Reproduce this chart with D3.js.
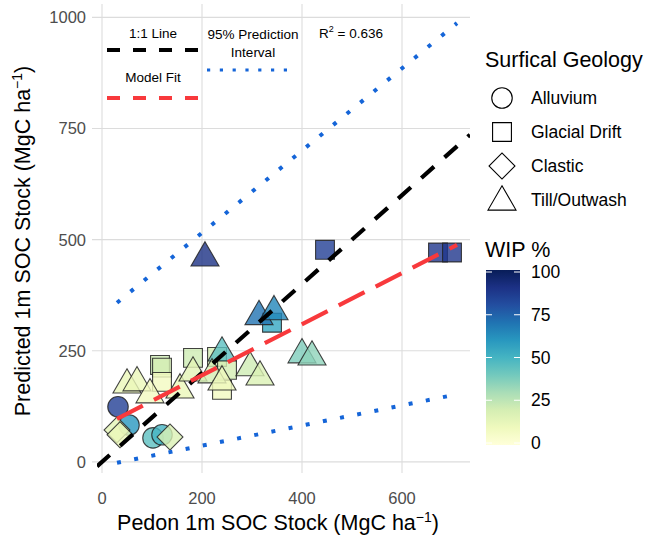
<!DOCTYPE html>
<html>
<head>
<meta charset="utf-8">
<script src="https://cdn.jsdelivr.net/npm/d3@7"></script>
<style>
body { margin: 0; background: #fff; }
text { font-family: "Liberation Sans", Arial, Helvetica, sans-serif; }
</style>
</head>
<body>
<div id="chart"></div>
<script>
// surficial geology classes, legend order
var geoTypes = ["Alluvium", "Glacial Drift", "Clastic", "Till/Outwash"];

// one entry per site
var pointGeo = [
  "Alluvium", "Alluvium", "Alluvium", "Alluvium",
  "Clastic", "Clastic", "Clastic",
  "Glacial Drift", "Glacial Drift", "Glacial Drift", "Glacial Drift", "Glacial Drift", "Glacial Drift",
  "Glacial Drift", "Glacial Drift", "Glacial Drift", "Glacial Drift", "Glacial Drift",
  "Till/Outwash", "Till/Outwash", "Till/Outwash", "Till/Outwash", "Till/Outwash", "Till/Outwash",
  "Till/Outwash", "Till/Outwash", "Till/Outwash", "Till/Outwash", "Till/Outwash", "Till/Outwash",
  "Till/Outwash", "Till/Outwash", "Till/Outwash"
];
var pedonSOC = [32, 54, 102, 120,
  30, 36, 136,
  116, 120, 120, 182, 230, 250, 240, 340, 446, 672, 700,
  50, 70, 96, 156, 182, 240, 220, 240, 296, 316, 400, 420, 314, 344, 206];
var predSOC = [124, 83, 54, 61,
  72, 61, 56,
  218, 212, 180, 234, 236, 207, 162, 313, 477, 471, 471,
  173, 178, 151, 162, 200, 245, 196, 180, 212, 191, 241, 236, 327, 338, 459];
var wipPct = [85, 60, 45, 50,
  15, 12, 18,
  22, 20, 8, 22, 20, 20, 8, 55, 85, 88, 88,
  12, 12, 8, 12, 15, 45, 20, 10, 22, 18, 38, 35, 70, 65, 90];

// fitted model and 95% prediction interval (end points)
var lineX = [30, 710];
var fitY = [97, 488];
var upperY = [358, 987];
var lowerY = [-2, 152];

var xTicks = [0, 200, 400, 600];
var yTicks = [0, 250, 500, 750, 1000];
var wipTicks = [0, 25, 50, 75, 100];
var rSquared = "0.636";

var svg = d3.select("#chart").append("svg")
  .attr("width", 649)
  .attr("height", 535)
  .style("background", "#fff");

var x = d3.scaleLinear().domain([-10, 736]).range([97, 470]);
var y = d3.scaleLinear().domain([-16, 1030]).range([469, 4]);
var colour = function(v) { return d3.interpolateYlGnBu(v / 100); };

svg.append("clipPath").attr("id", "panel")
  .append("rect").attr("x", 97).attr("y", 4).attr("width", 373).attr("height", 465);

// grid
var grid = svg.append("g");
grid.selectAll(".gx").data(xTicks).enter().append("line")
  .attr("x1", d => x(d)).attr("x2", d => x(d))
  .attr("y1", 4).attr("y2", 473)
  .attr("stroke", "#dcdcdc").attr("stroke-width", 1.1);
grid.selectAll(".gy").data(yTicks).enter().append("line")
  .attr("y1", d => y(d)).attr("y2", d => y(d))
  .attr("x1", 92).attr("x2", 470)
  .attr("stroke", "#dcdcdc").attr("stroke-width", 1.1);

// tick labels
svg.selectAll(".xl").data(xTicks).enter().append("text")
  .attr("x", d => x(d)).attr("y", 503.5)
  .attr("text-anchor", "middle")
  .attr("font-size", 16.5).attr("fill", "#4d4d4d")
  .text(d => d);
svg.selectAll(".yl").data(yTicks).enter().append("text")
  .attr("x", 86).attr("y", d => y(d) + 6)
  .attr("text-anchor", "end")
  .attr("font-size", 16.5).attr("fill", "#4d4d4d")
  .text(d => d);

// axis titles
var xt = svg.append("text")
  .attr("x", 278).attr("y", 530)
  .attr("text-anchor", "middle")
  .attr("font-size", 21.5).attr("fill", "#000");
xt.append("tspan").text("Pedon 1m SOC Stock (MgC ha");
xt.append("tspan").attr("dy", -8).attr("font-size", 14).text("\u22121");
xt.append("tspan").attr("dy", 8).text(")");

var yt = svg.append("text")
  .attr("transform", "translate(30,241) rotate(-90)")
  .attr("text-anchor", "middle")
  .attr("font-size", 21.5).attr("fill", "#000");
yt.append("tspan").text("Predicted 1m SOC Stock (MgC ha");
yt.append("tspan").attr("dy", -8).attr("font-size", 14).text("\u22121");
yt.append("tspan").attr("dy", 8).text(")");

// symbols
var shapeOf = {
  "Alluvium": d3.symbol().type(d3.symbolCircle).size(330),
  "Glacial Drift": d3.symbol().type(d3.symbolSquare).size(355),
  "Clastic": d3.symbol().type(d3.symbolSquare).size(335),
  "Till/Outwash": d3.symbol().type(d3.symbolTriangle).size(340)
};
var rot = function(g) { return g == "Clastic" ? " rotate(45)" : ""; };

var plot = svg.append("g").attr("clip-path", "url(#panel)");

var pts = d3.range(pedonSOC.length);
plot.selectAll(".pt").data(pts).enter().append("path")
  .attr("d", i => shapeOf[pointGeo[i]]())
  .attr("transform", i => "translate(" + x(pedonSOC[i]) + "," + y(predSOC[i]) + ")" + rot(pointGeo[i]))
  .attr("fill", i => colour(wipPct[i]))
  .attr("fill-opacity", 0.8)
  .attr("stroke", "#222")
  .attr("stroke-opacity", 0.85)
  .attr("stroke-width", 1.1);

// 1:1 line
plot.append("line")
  .attr("x1", x(-10)).attr("y1", y(-10))
  .attr("x2", x(736)).attr("y2", y(736))
  .attr("stroke", "#000").attr("stroke-width", 4.2)
  .attr("stroke-dasharray", "17,14");

// model fit
plot.append("line")
  .attr("x1", x(lineX[0])).attr("y1", y(fitY[0]))
  .attr("x2", x(lineX[1])).attr("y2", y(fitY[1]))
  .attr("stroke", "#f8393c").attr("stroke-width", 4.2)
  .attr("stroke-dasharray", "29,12.5");

// prediction interval
[upperY, lowerY].forEach(function(py) {
  plot.append("line")
    .attr("x1", x(lineX[0])).attr("y1", y(py[0]))
    .attr("x2", x(lineX[1])).attr("y2", y(py[1]))
    .attr("stroke", "#1565d8").attr("stroke-width", 4)
    .attr("stroke-dasharray", "4,13.5");
});

// in-panel key
var key = svg.append("g").attr("font-size", 13.5).attr("fill", "#000").attr("text-anchor", "middle");
key.append("text").attr("x", 153).attr("y", 38).text("1:1 Line");
key.append("line").attr("x1", 107).attr("x2", 198).attr("y1", 50).attr("y2", 50)
  .attr("stroke", "#000").attr("stroke-width", 4).attr("stroke-dasharray", "13,13");
key.append("text").attr("x", 153).attr("y", 82).text("Model Fit");
key.append("line").attr("x1", 107).attr("x2", 198).attr("y1", 98).attr("y2", 98)
  .attr("stroke", "#f8393c").attr("stroke-width", 4).attr("stroke-dasharray", "13,13");
key.append("text").attr("x", 253).attr("y", 39).text("95% Prediction");
key.append("text").attr("x", 253).attr("y", 57).text("Interval");
key.append("line").attr("x1", 207).attr("x2", 290).attr("y1", 70).attr("y2", 70)
  .attr("stroke", "#1565d8").attr("stroke-width", 3.2).attr("stroke-dasharray", "3.2,9.6");
var r2 = key.append("text").attr("x", 351).attr("y", 38);
r2.append("tspan").text("R");
r2.append("tspan").attr("dy", -6).attr("font-size", 9).text("2");
r2.append("tspan").attr("dy", 6).text(" = " + rSquared);

// shape legend
var lg = svg.append("g");
lg.append("text").attr("x", 485).attr("y", 67).attr("font-size", 21.5).text("Surfical Geology");
geoTypes.forEach(function(g, i) {
  var cy = 98 + i * 34;
  lg.append("path")
    .attr("d", shapeOf[g]())
    .attr("transform", "translate(502," + (g == "Till/Outwash" ? cy + 2 : cy) + ")" + rot(g))
    .attr("fill", "none").attr("stroke", "#000").attr("stroke-width", 1.1);
  lg.append("text").attr("x", 531).attr("y", cy + 6).attr("font-size", 17.5).text(g);
});

// colour bar
var bar = { x: 486, y: 272, w: 34, h: 171 };
var defs = svg.append("defs");
var grad = defs.append("linearGradient").attr("id", "wip")
  .attr("x1", 0).attr("y1", 1).attr("x2", 0).attr("y2", 0);
d3.range(0, 1.01, 0.1).forEach(function(t) {
  grad.append("stop").attr("offset", t).attr("stop-color", colour(t * 100));
});
svg.append("text").attr("x", 485).attr("y", 257).attr("font-size", 21.5).text("WIP %");
svg.append("rect").attr("x", bar.x).attr("y", bar.y - 2).attr("width", bar.w).attr("height", bar.h + 4)
  .attr("fill", "url(#wip)");
var wy = d3.scaleLinear().domain([0, 100]).range([bar.y + bar.h, bar.y]);
wipTicks.forEach(function(t) {
  svg.append("line").attr("x1", bar.x).attr("x2", bar.x + 6).attr("y1", wy(t)).attr("y2", wy(t))
    .attr("stroke", "#fff").attr("stroke-width", 1);
  svg.append("line").attr("x1", bar.x + bar.w - 6).attr("x2", bar.x + bar.w).attr("y1", wy(t)).attr("y2", wy(t))
    .attr("stroke", "#fff").attr("stroke-width", 1);
  svg.append("text").attr("x", 531).attr("y", wy(t) + 6).attr("font-size", 17.5).text(t);
});
</script>
</body>
</html>
